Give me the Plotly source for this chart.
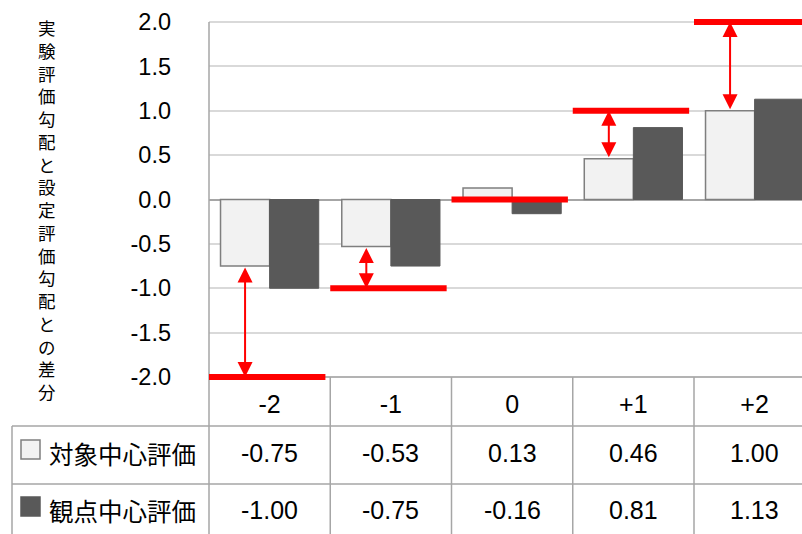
import plotly.graph_objects as go

# ---- data -------------------------------------------------------------
categories = ["-2", "-1", "0", "+1", "+2"]
set_gradient = [-2, -1, 0, 1, 2]                       # 設定評価勾配
object_centered = [-0.75, -0.53, 0.13, 0.46, 1.00]     # 対象中心評価
viewpoint_centered = [-1.00, -0.75, -0.16, 0.81, 1.13] # 観点中心評価
series_names = ["対象中心評価", "観点中心評価"]
y_ticks = [-2.0, -1.5, -1.0, -0.5, 0.0, 0.5, 1.0, 1.5, 2.0]
arrow_categories = ["-2", "-1", "+1", "+2"]
y_title = "実験評価勾配と設定評価勾配との差分"

# ---- styling ----------------------------------------------------------
LIGHT, LIGHT_EDGE = "#f2f2f2", "#7f7f7f"
DARK, DARK_EDGE = "#595959", "#595959"
RED = "#ff0000"
GRID = "#d9d9d9"
TABLE_LINE = "#a6a6a6"
NUM_FONT = "Liberation Sans, Arial, sans-serif"
CJK_FONT = "Noto Sans CJK JP, sans-serif"
BARGAP = 0.19

W, H = 802, 534
L, R, T, B = 209, 0, 16, 151
PW, PH = W - L - R, H - T - B
COL_W = 121.25                      # width of one category column
X_RANGE = [-0.5, -0.5 + PW / COL_W]
Y_PAD = 6 / ((PH - 12) / 4)         # small headroom so thick lines at ±2 are not clipped
Y_RANGE = [-2 - Y_PAD, 2 + Y_PAD]


def px_x(px):
    return (px - L) / PW


def px_y(py):
    return (T + PH - py) / PH


xs = list(range(len(categories)))

fig = go.Figure()
fig.add_bar(x=xs, y=object_centered, name=series_names[0],
            marker=dict(color=LIGHT, line=dict(color=LIGHT_EDGE, width=1.5)))
fig.add_bar(x=xs, y=viewpoint_centered, name=series_names[1],
            marker=dict(color=DARK, line=dict(color=DARK_EDGE, width=1)))

shapes = []
annotations = []

# ---- data table under the chart --------------------------------------
tl = dict(color=TABLE_LINE, width=1.5)
shapes.append(dict(type="line", xref="paper", yref="paper", x0=0, x1=1,
                   y0=px_y(377), y1=px_y(377), line=tl, layer="above"))
for yy in (426, 484):
    shapes.append(dict(type="line", xref="paper", yref="paper", x0=px_x(12), x1=1,
                       y0=px_y(yy), y1=px_y(yy), line=tl, layer="above"))
shapes.append(dict(type="line", xref="paper", yref="paper", x0=px_x(12), x1=px_x(12),
                   y0=px_y(426), y1=px_y(H + 5), line=tl, layer="above"))
shapes.append(dict(type="line", xref="paper", yref="paper", x0=0, x1=0,
                   y0=px_y(22), y1=px_y(H + 5), line=tl, layer="above"))
for i in range(len(categories) - 1):
    shapes.append(dict(type="line", xref="x", yref="paper", x0=i + 0.5, x1=i + 0.5,
                       y0=px_y(377), y1=px_y(H + 5), line=tl, layer="above"))

row_y = [453, 510]
legend_boxes = [(LIGHT, LIGHT_EDGE), (DARK, DARK_EDGE)]
for name, values, (fill, edge), yc in zip(series_names,
                                           [object_centered, viewpoint_centered],
                                           legend_boxes, row_y):
    shapes.append(dict(type="rect", xref="paper", yref="paper",
                       x0=px_x(21), x1=px_x(40), y0=px_y(yc - 13), y1=px_y(yc + 6),
                       fillcolor=fill, line=dict(color=edge, width=1.5), layer="above"))
    annotations.append(dict(x=px_x(47), y=px_y(yc), xref="paper", yref="paper",
                            text=name, showarrow=False, xanchor="left", yanchor="middle",
                            font=dict(family=CJK_FONT, size=24.5, color="#000000")))
    for i, v in enumerate(values):
        annotations.append(dict(x=i, y=px_y(yc), xref="x", yref="paper",
                                text=f"{v:.2f}", showarrow=False,
                                xanchor="center", yanchor="middle",
                                font=dict(family=NUM_FONT, size=25, color="#000000")))

# ---- red bars marking the set gradient of each category (drawn over the table rule)
for i, g in enumerate(set_gradient):
    shapes.append(dict(type="line", xref="x", yref="y", x0=i - 0.5, x1=i + 0.46,
                       y0=g, y1=g, line=dict(color=RED, width=6), layer="above"))

# double-headed arrows between the 対象中心評価 bar and the set gradient
light_offset = -(1 - BARGAP) / 4
for i, cat in enumerate(categories):
    if cat not in arrow_categories:
        continue
    xc = i + light_offset
    annotations.append(dict(
        x=xc, y=set_gradient[i], ax=xc, ay=object_centered[i],
        xref="x", yref="y", axref="x", ayref="y", text="",
        showarrow=True, arrowside="end+start", arrowhead=2, startarrowhead=2,
        arrowsize=1.5, startarrowsize=1.5, arrowwidth=2, arrowcolor=RED))

# vertical (upright) y-axis title, one character per line
annotations.append(dict(x=px_x(47), y=px_y(209), xref="paper", yref="paper",
                        text="<br>".join(y_title), showarrow=False,
                        xanchor="center", yanchor="middle", align="center",
                        font=dict(family=CJK_FONT, size=17.5, color="#000000")))

fig.update_layout(
    width=W, height=H,
    margin=dict(l=L, r=R, t=T, b=B, pad=0),
    barmode="group", bargap=BARGAP, bargroupgap=0,
    showlegend=False,
    plot_bgcolor="white", paper_bgcolor="white",
    font=dict(family=NUM_FONT, color="#000000"),
    shapes=shapes, annotations=annotations,
    xaxis=dict(range=X_RANGE, tickvals=xs, ticktext=categories, showgrid=False,
               zeroline=False, showline=False, ticks="",
               tickfont=dict(family=NUM_FONT, size=25, color="#000000"),
               ticklabelstandoff=4, fixedrange=True),
    yaxis=dict(range=Y_RANGE, tickvals=y_ticks, ticktext=[f"{v:.1f}" for v in y_ticks],
               showgrid=True, gridcolor=GRID, gridwidth=1.5,
               zeroline=True, zerolinecolor="#a6a6a6", zerolinewidth=1.5,
               showline=False, ticks="",
               tickfont=dict(family=NUM_FONT, size=23.5, color="#000000"),
               ticklabelstandoff=37, fixedrange=True),
)

fig.write_html("out.html")
